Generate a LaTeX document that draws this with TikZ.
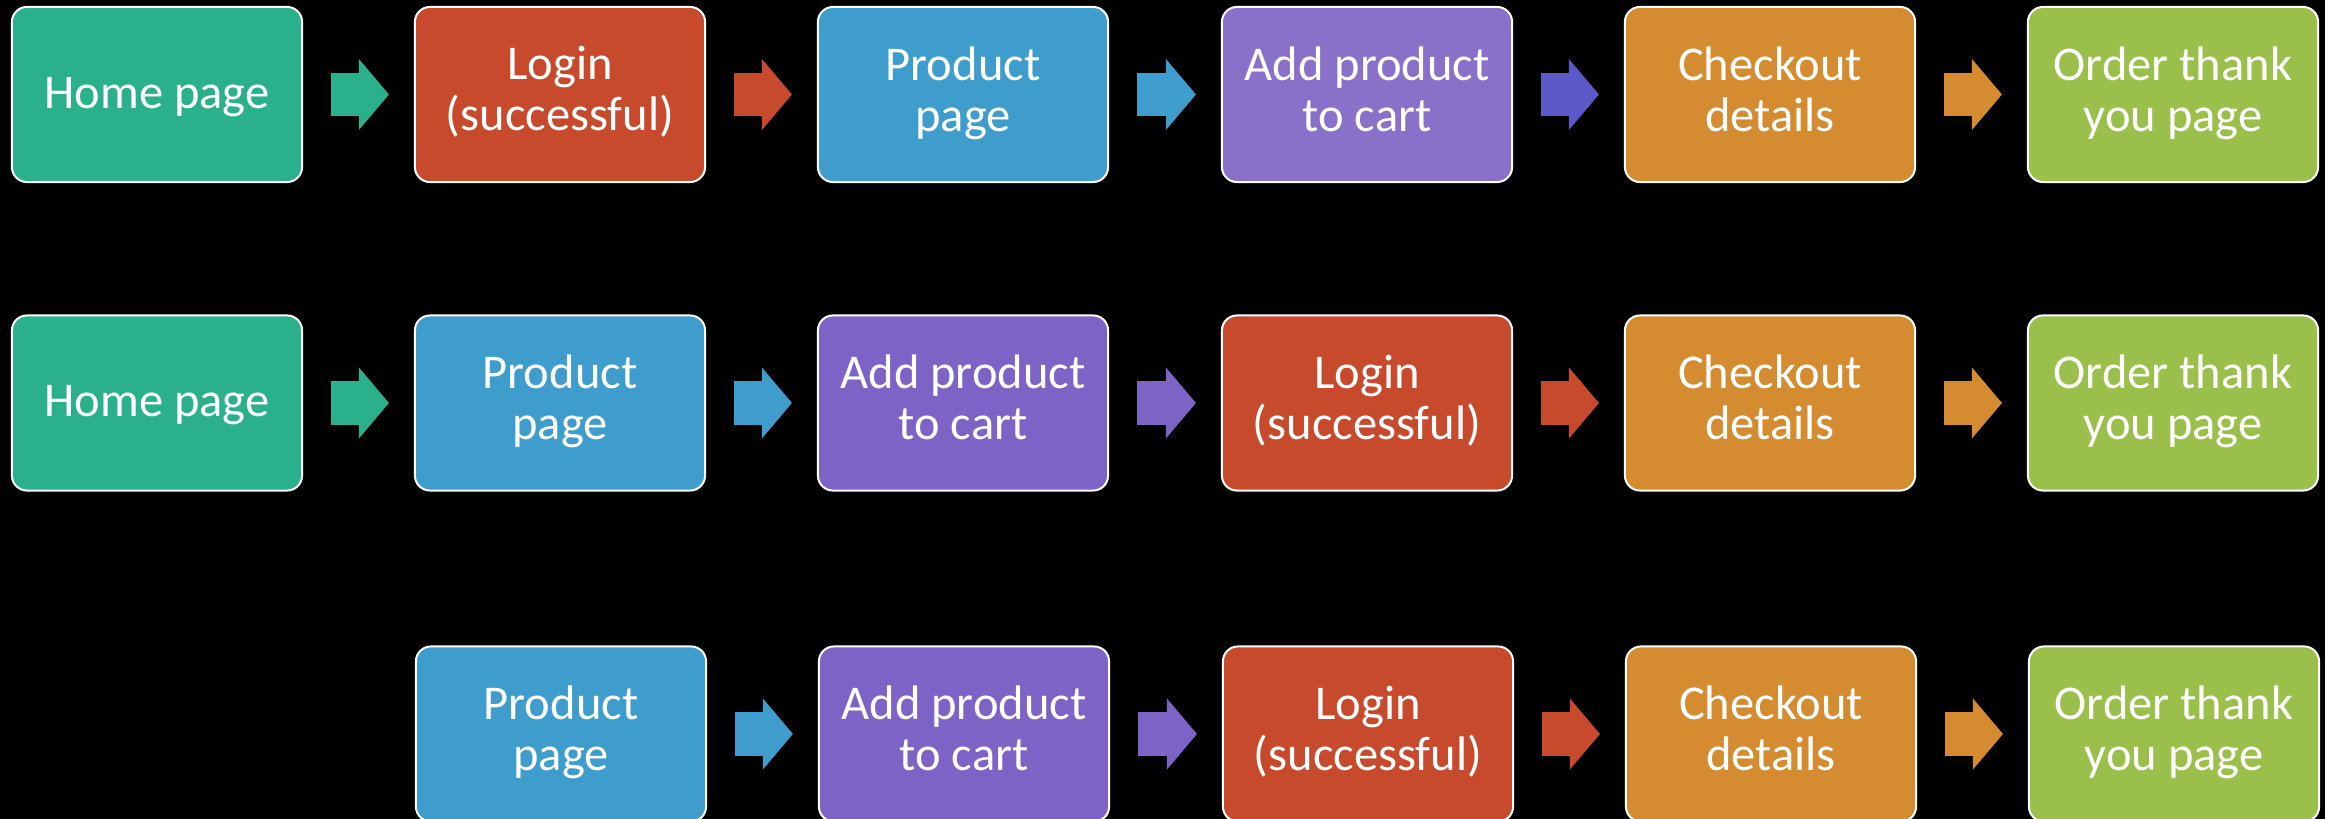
\documentclass[tikz,border=0pt]{standalone}
\usepackage{fontspec}
\setmainfont{Carlito}
\usetikzlibrary{arrows.meta}
\definecolor{homegreen}{HTML}{2AB08B}
\definecolor{loginred}{HTML}{C84A2D}
\definecolor{productblue}{HTML}{3E9DCC}
\definecolor{cartlilac}{HTML}{8970C9}
\definecolor{cartviolet}{HTML}{7E63C6}
\definecolor{cartindigo}{HTML}{5B58C7}
\definecolor{checkoutorange}{HTML}{D58B30}
\definecolor{orderlime}{HTML}{9ABF4A}
\newcommand{\pagestrut}{\rule[-3.3pt]{0pt}{14.3pt}}
\begin{document}
\begin{tikzpicture}[x=0.01cm, y=-0.01cm,
	page/.style={draw=white, line width=0.02cm, rounded corners=0.15cm, fill=#1,
		minimum width=2.9cm, minimum height=1.75cm, inner sep=0pt,
		text=white, align=center, font=\fontsize{13.8}{14.5}\selectfont,
		execute at begin node=\pagestrut, execute at end node=\pagestrut},
	flow/.style={draw=#1, line width=0.43cm, shorten <=0.28cm, shorten >=0.25cm,
		-{Triangle[length=0.3cm, width=0.71cm, line width=0pt]}}
	]
	\clip (0,0) rectangle (2325,819);
	\fill[black] (0,0) rectangle (2325,819);
	% first path: login right after the home page
	\node[page=homegreen] (home1) at (157,94.5) {Home page};
	\node[page=loginred] (login1) at (560,94.5) {Login\\(successful)};
	\node[page=productblue] (product1) at (963,94.5) {Product\\page};
	\node[page=cartlilac] (cart1) at (1367,94.5) {Add product\\to cart};
	\node[page=checkoutorange] (checkout1) at (1770,94.5) {Checkout\\details};
	\node[page=orderlime] (order1) at (2173,94.5) {Order thank\\you page};
	\draw[flow=homegreen] (home1) -- (login1);
	\draw[flow=loginred] (login1) -- (product1);
	\draw[flow=productblue] (product1) -- (cart1);
	\draw[flow=cartindigo] (cart1) -- (checkout1);
	\draw[flow=checkoutorange] (checkout1) -- (order1);
	% second path: login after adding to cart
	\node[page=homegreen] (home2) at (157,403) {Home page};
	\node[page=productblue] (product2) at (560,403) {Product\\page};
	\node[page=cartviolet] (cart2) at (963,403) {Add product\\to cart};
	\node[page=loginred] (login2) at (1367,403) {Login\\(successful)};
	\node[page=checkoutorange] (checkout2) at (1770,403) {Checkout\\details};
	\node[page=orderlime] (order2) at (2173,403) {Order thank\\you page};
	\draw[flow=homegreen] (home2) -- (product2);
	\draw[flow=productblue] (product2) -- (cart2);
	\draw[flow=cartviolet] (cart2) -- (login2);
	\draw[flow=loginred] (login2) -- (checkout2);
	\draw[flow=checkoutorange] (checkout2) -- (order2);
	% third path: straight to the product page
	\node[page=productblue] (product3) at (561,734) {Product\\page};
	\node[page=cartviolet] (cart3) at (964,734) {Add product\\to cart};
	\node[page=loginred] (login3) at (1368,734) {Login\\(successful)};
	\node[page=checkoutorange] (checkout3) at (1771,734) {Checkout\\details};
	\node[page=orderlime] (order3) at (2174,734) {Order thank\\you page};
	\draw[flow=productblue] (product3) -- (cart3);
	\draw[flow=cartviolet] (cart3) -- (login3);
	\draw[flow=loginred] (login3) -- (checkout3);
	\draw[flow=checkoutorange] (checkout3) -- (order3);
\end{tikzpicture}
\end{document}
